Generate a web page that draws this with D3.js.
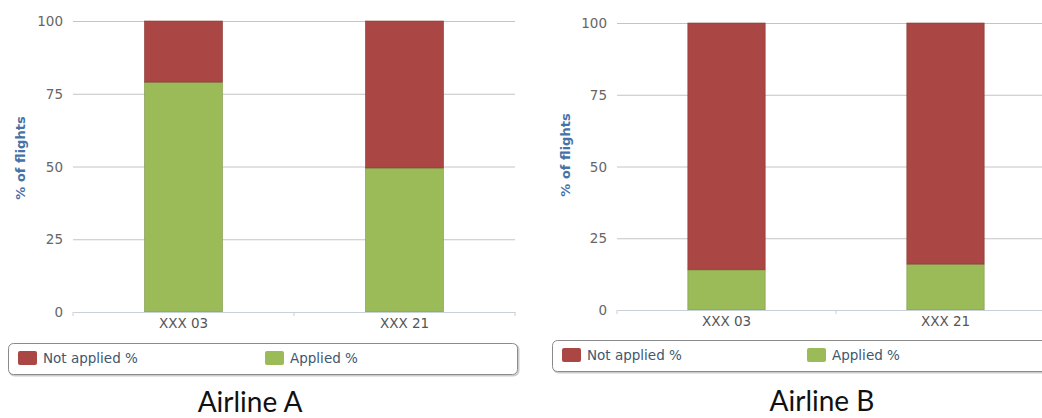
<!DOCTYPE html>
<html>
<head>
<meta charset="utf-8">
<script src="https://cdn.jsdelivr.net/npm/d3@7"></script>
<style>
  html, body { margin: 0; padding: 0; background: #fff; }
  svg { display: block; }
</style>
</head>
<body>
<svg id="chart" width="1042" height="418"></svg>
<script>
// ---- data ----
const categories = ["XXX 03", "XXX 21"];
const seriesNames = ["Not applied %", "Applied %"];
const airlineNames = ["Airline A", "Airline B"];
const notAppliedA = [21, 50.5];
const appliedA = [79, 49.5];
const notAppliedB = [86, 84];
const appliedB = [14, 16];
const yTicks = [0, 25, 50, 75, 100];
const yTitle = "% of flights";

// ---- styling / layout ----
const colors = { "Not applied %": "#AA4643", "Applied %": "#9BBB59" };
const panels = [
  { name: airlineNames[0], notApplied: notAppliedA, applied: appliedA,
    x0: 73, x1: 515, yTop: 21, yBot: 312, tickX: 63, titleX: 20, titleY: 158,
    legend: { x: 8, y: 343, w: 509, h: 31, sw1: 18, sw2: 265 },
    label: { x: 250, y: 412 } },
  { name: airlineNames[1], notApplied: notAppliedB, applied: appliedB,
    x0: 617, x1: 1055, yTop: 23, yBot: 310, tickX: 607, titleX: 565, titleY: 155,
    legend: { x: 552, y: 340, w: 510, h: 31, sw1: 562, sw2: 807 },
    label: { x: 822, y: 411 } }
];

const svg = d3.select("#chart");
const font = "'DejaVu Sans', Verdana, sans-serif";
const fs = 13.5;

panels.forEach(p => {
  const g = svg.append("g");
  const x = d3.scaleBand().domain(categories).range([p.x0, p.x1])
    .paddingInner(0.647).paddingOuter(0.3235);
  const y = d3.scaleLinear().domain([0, 100]).range([p.yBot, p.yTop]);

  // gridlines
  g.append("g").selectAll("line").data(yTicks.filter(t => t > 0)).join("line")
    .attr("x1", p.x0).attr("x2", p.x1)
    .attr("y1", d => y(d) + 0.5).attr("y2", d => y(d) + 0.5)
    .attr("stroke", "#c4c4c4").attr("stroke-width", 1);

  // y axis labels
  const yAxis = d3.axisLeft(y).tickValues(yTicks).tickSize(0).tickPadding(0);
  const ya = g.append("g").attr("transform", `translate(${p.tickX},0)`).call(yAxis);
  ya.select(".domain").remove();
  ya.selectAll("text").attr("font-family", font).attr("font-size", fs)
    .attr("fill", "#666").attr("dy", "0.35em");

  // y title
  g.append("text")
    .attr("transform", `translate(${p.titleX},${p.titleY}) rotate(-90)`)
    .attr("text-anchor", "middle").attr("dy", "0.35em")
    .attr("font-family", font).attr("font-size", 13).attr("font-weight", "bold")
    .attr("fill", "#4572A7").text(yTitle);

  // stacked bars
  const rows = categories.map((c, i) => ({
    cat: c, "Applied %": p.applied[i], "Not applied %": p.notApplied[i]
  }));
  const stack = d3.stack().keys(["Applied %", "Not applied %"])(rows);
  g.append("g").selectAll("g").data(stack).join("g")
    .attr("fill", d => colors[d.key])
    .attr("stroke", d => d3.color(colors[d.key]).darker(0.6))
    .attr("stroke-width", 0.6)
    .selectAll("rect").data(d => d).join("rect")
    .attr("x", d => x(d.data.cat))
    .attr("width", x.bandwidth())
    .attr("y", d => y(d[1]))
    .attr("height", d => y(d[0]) - y(d[1]));

  // x axis
  const xa = d3.axisBottom(x).tickSize(0).tickPadding(5);
  const xg = g.append("g").attr("transform", `translate(0,${p.yBot})`).call(xa);
  xg.select(".domain").attr("stroke", "#c8d0d8");
  xg.selectAll("text").attr("font-family", font).attr("font-size", fs)
    .attr("fill", "#555").attr("dy", "0.85em");
  // boundary ticks
  const bounds = [p.x0, p.x0 + (p.x1 - p.x0) / 2, p.x1];
  g.append("g").selectAll("line").data(bounds).join("line")
    .attr("x1", d => d).attr("x2", d => d)
    .attr("y1", p.yBot).attr("y2", p.yBot + 4)
    .attr("stroke", "#c8d0d8");

  // legend
  const L = p.legend;
  g.append("rect").attr("x", L.x + 1.5).attr("y", L.y + 1.5).attr("width", L.w).attr("height", L.h)
    .attr("rx", 5).attr("fill", "none").attr("stroke", "#ccc").attr("stroke-width", 2);
  g.append("rect").attr("x", L.x + 0.5).attr("y", L.y + 0.5).attr("width", L.w).attr("height", L.h)
    .attr("rx", 5).attr("fill", "#fff").attr("stroke", "#8a8a8a").attr("stroke-width", 1);
  const items = [{ key: seriesNames[0], sx: L.sw1 }, { key: seriesNames[1], sx: L.sw2 }];
  const li = g.append("g").selectAll("g").data(items).join("g");
  li.append("rect").attr("x", d => d.sx).attr("y", L.y + 8).attr("width", 19).attr("height", 14)
    .attr("rx", 2).attr("fill", d => colors[d.key]);
  li.append("text").attr("x", d => d.sx + 25).attr("y", L.y + 15).attr("dy", "0.35em")
    .attr("font-family", font).attr("font-size", fs).attr("fill", "#3E576F")
    .text(d => d.key);

  // panel label
  g.append("text").attr("x", p.label.x).attr("y", p.label.y).attr("text-anchor", "middle")
    .attr("font-family", "Lato, 'Open Sans', sans-serif").attr("font-size", 28)
    .attr("fill", "#111").text(p.name);
});
</script>
</body>
</html>
